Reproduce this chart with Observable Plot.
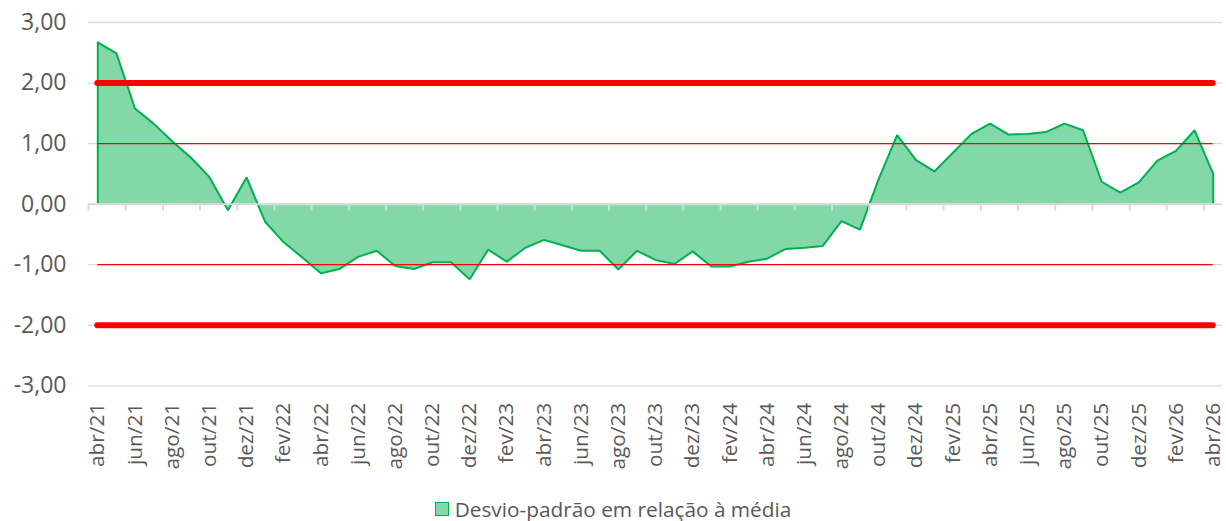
<!DOCTYPE html>
<html><head><meta charset="utf-8">
<script src="https://cdn.jsdelivr.net/npm/d3@7"></script>
<script src="https://cdn.jsdelivr.net/npm/@observablehq/plot@0.6"></script>
<style>
body{margin:0;background:#fff;font-family:"Open Sans",sans-serif;}
#legend{height:25px;display:flex;justify-content:center;align-items:center;font-size:20.8px;color:#595959;}
#legend .sw{width:14px;height:14px;background:#82d8a8;border:1.5px solid #00b050;margin-right:6px;box-sizing:border-box;}
</style></head><body>
<div id="chart"></div>
<div id="legend"><span class="sw"></span><span id="legtext"></span></div>
<script>
const categories = [
 "abr/21","mai/21","jun/21","jul/21","ago/21","set/21","out/21","nov/21","dez/21",
 "jan/22","fev/22","mar/22","abr/22","mai/22","jun/22","jul/22","ago/22","set/22","out/22","nov/22","dez/22",
 "jan/23","fev/23","mar/23","abr/23","mai/23","jun/23","jul/23","ago/23","set/23","out/23","nov/23","dez/23",
 "jan/24","fev/24","mar/24","abr/24","mai/24","jun/24","jul/24","ago/24","set/24","out/24","nov/24","dez/24",
 "jan/25","fev/25","mar/25","abr/25","mai/25","jun/25","jul/25","ago/25","set/25","out/25","nov/25","dez/25",
 "jan/26","fev/26","mar/26","abr/26"
];
const values = [
 2.67, 2.49, 1.58, 1.33, 1.04, 0.77, 0.45, -0.10, 0.44,
 -0.29, -0.63, -0.88, -1.14, -1.07, -0.87, -0.77, -1.02, -1.07, -0.96, -0.96, -1.24,
 -0.75, -0.95, -0.72, -0.59, -0.68, -0.77, -0.77, -1.08, -0.77, -0.92, -0.99, -0.78,
 -1.03, -1.03, -0.95, -0.90, -0.74, -0.72, -0.69, -0.28, -0.42, 0.41, 1.14, 0.73,
 0.54, 0.85, 1.16, 1.33, 1.15, 1.16, 1.19, 1.33, 1.22, 0.37, 0.19, 0.36,
 0.72, 0.88, 1.22, 0.50
];
const seriesName = "Desvio-padrão em relação à média";
const yTicks = [3, 2, 1, 0, -1, -2, -3];
const gridValues = [3, 2, 1, -1, -2, -3];
const thickLimits = [2, -2];
const thinLimits = [1, -1];

const data = categories.map((c, i) => ({i, c, v: values[i]}));
const ends = [data[0], data[data.length - 1]];
const tickIdx = categories.map((c, i) => i).filter(i => i % 2 === 0);
const boundaries = tickIdx.map(i => i - 0.5).filter(b => b < categories.length - 1);
const first = 0, last = categories.length - 1;

const chart = Plot.plot({
  width: 1226, height: 496,
  marginLeft: 88, marginRight: 4, marginTop: 22, marginBottom: 110.7,
  style: {fontFamily: "'Open Sans', sans-serif", color: "#595959", background: "#fff"},
  x: {domain: [-0.5, categories.length - 0.5]},
  y: {domain: [-3, 3]},
  marks: [
    Plot.ruleY(gridValues, {stroke: "#d9d9d9", strokeWidth: 1.3}),
    Plot.areaY(data, {x: "i", y: "v", fill: "#82d8a8"}),
    Plot.lineY(data, {x: "i", y: "v", stroke: "#00b050", strokeWidth: 2, strokeLinejoin: "miter"}),
    Plot.ruleX(ends, {x: "i", y1: 0, y2: "v", stroke: "#00b050", strokeWidth: 2}),
    Plot.ruleY(thinLimits, {x1: first, x2: last, stroke: "#ff0000", strokeWidth: 1.3}),
    Plot.ruleY(thickLimits, {x1: first, x2: last, stroke: "#ff0000", strokeWidth: 6, strokeLinecap: "round"}),
    Plot.ruleY([0], {stroke: "#d9d9d9", strokeWidth: 2}),
    Plot.ruleX(boundaries, {y1: 0, y2: 0, insetBottom: -7, stroke: "#d9d9d9", strokeWidth: 2}),
    Plot.axisY({ticks: yTicks, tickFormat: d => d.toFixed(2).replace(".", ","), tickSize: 0, tickPadding: 22, fontSize: 23, label: null}),
    Plot.axisX({ticks: tickIdx, tickFormat: i => categories[i], tickRotate: -90, tickSize: 0, tickPadding: 17, fontSize: 20.8, label: null})
  ]
});
document.getElementById("chart").appendChild(chart);
document.getElementById("legtext").textContent = seriesName;
</script>
</body></html>
